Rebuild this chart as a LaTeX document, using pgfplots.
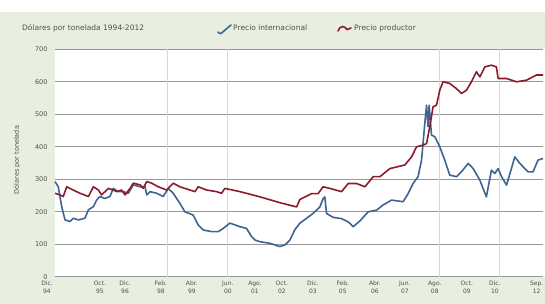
\documentclass[border=0pt]{standalone}
\usepackage{pgfplots}
\pgfplotsset{compat=1.18}
\usepackage{fontspec}
\setmainfont{DejaVu Sans}
\definecolor{panel}{RGB}{232,239,224}
\definecolor{blueline}{RGB}{62,100,145}
\definecolor{redline}{RGB}{140,28,45}
\definecolor{gridc}{RGB}{150,150,150}
\definecolor{vgrid}{RGB}{215,215,215}
\definecolor{txt}{RGB}{80,80,80}

\pgfplotstableread{
m v
0 293
1.5 277
3.1 216
4.6 175
6.9 170
8.4 180
10.8 175
13.8 180
15.4 206
17.7 216
19.2 236
20.7 247
23 241
25.3 247
26.9 272
29.2 262
31.5 262
33.8 257
36.1 283
39.2 277
41.5 277
42.3 252
43.8 262
46.9 257
49.9 247
52.2 272
54.5 257
57.6 226
59.9 200
63.7 190
66 160
68.3 144
72.2 139
75.3 139
77.6 149
80.6 165
82.9 160
85.3 154
88.3 149
90.6 124
92.2 113
94.5 108
99.1 103
103.7 93
106 98
108.3 113
110.6 145
112.9 165
116 180
119 195
122.1 215
123.6 240
124.4 246
125.2 195
128.2 183
132.1 179
135.2 169
137.5 154
140.6 172
144.4 200
148.2 205
151.3 221
155.2 236
160.5 231
162.8 256
165.1 287
167.4 308
169 359
170.5 472
171.3 528
172 462
172.5 528
173.6 436
175.1 431
177.4 400
179.7 359
182 313
185.1 308
187.4 323
190.5 349
192.8 333
195.9 297
198.9 246
201.2 328
202.8 318
204.3 333
205.9 308
208.2 282
212 369
214.3 349
218.1 323
220.4 323
222.7 359
225 364
}\intl

\pgfplotstableread{
m v
0 257
2.3 252
3.8 247
5.4 277
8.4 267
11.5 257
15.4 247
17.7 277
20 267
21.5 252
24.6 272
26.9 267
28.4 262
30.7 267
32.3 252
34.6 272
36.1 288
39.2 283
40.7 272
42.3 293
44.6 288
47.6 277
51.5 267
54.5 288
57.6 277
62.2 267
64.5 262
66 277
69.9 267
74.5 262
76.8 257
78.3 272
85.3 262
94.5 246
102.2 231
103.7 228
111.4 215
112.9 238
116 248
118.3 256
121.3 256
123.6 277
126.7 272
132.1 262
135.2 287
139 287
142.9 277
146.7 308
149.8 308
154.4 333
157.5 338
161.3 344
164.4 369
166.7 400
169.7 405
171.3 410
172.8 462
174.3 523
175.9 528
177.4 574
178.9 600
182 595
185.1 579
187.4 564
189.7 574
192 600
194.3 631
195.9 615
198.2 646
201.2 651
203.5 646
204.3 610
208.2 610
212.8 600
217.4 605
222 621
225 621
}\prod

\begin{document}
\begin{tikzpicture}[x=1pt,y=1pt]
\useasboundingbox (0,0) rectangle (545,304);
\fill[white] (0,0) rectangle (545,304);
\fill[panel] (0,0) rectangle (545,292);
\fill[white] (55,27.2) rectangle (545,254.7);
\node[anchor=west, font=\fontsize{7.5}{8}\selectfont, text=txt, inner sep=0] at (22,276) {Dólares por tonelada 1994-2012};
\draw[blueline, line width=1.6pt, line cap=round] (218,272) to[out=-45,in=210] (221,270.5) -- (231,279);
\node[anchor=west, font=\fontsize{7.5}{8}\selectfont, text=txt, inner sep=0] at (233,276) {Precio internacional};
\draw[redline, line width=1.6pt, line cap=round] (338,273) to[out=60,in=180] (342.5,277.5) to[out=0,in=135] (347,274.5) -- (351,276);
\node[anchor=west, font=\fontsize{7.5}{8}\selectfont, text=txt, inner sep=0] at (354,276) {Precio productor};
\node[rotate=90, font=\fontsize{6.5}{7}\selectfont, text=txt] at (17,144) {Dólares por tonelada};
\begin{axis}[
  at={(55pt,27.2pt)}, anchor=south west,
  scale only axis, width=488pt, height=227.5pt,
  xmin=0, xmax=225, ymin=0, ymax=700,
  axis line style={draw=none},
  major tick length=0pt,
  ytick={0,100,...,700},
  ymajorgrids,
  grid style={gridc, line width=1pt},
  /pgf/number format/assume math mode=true,
  yticklabel style={font=\fontsize{6.5}{7}\selectfont, text=txt, xshift=-4pt},
  xtick={20.7,32.3,48.8,63.1,79.7,92.2,104.6,118.9,132.7,147.5,161.3,175.1,189.9,202.8,222.1},
  xticklabels={{Oct.\\95},{Dic.\\96},{Feb.\\98},{Abr.\\99},{Jun.\\00},{Ago.\\01},{Oct.\\02},{Dic.\\03},{Feb.\\05},{Abr.\\06},{Jun.\\07},{Ago.\\08},{Oct.\\09},{Dic.\\10},{Sep.\\12}},
  xticklabel style={font=\fontsize{6}{7.5}\selectfont, text=txt, align=center, yshift=-1pt},
  extra x ticks={0},
  extra x tick labels={{Dic.\\94}},
  extra x tick style={xticklabel style={xshift=-8pt}, grid=none},
  clip=false,
]
\draw[vgrid, line width=0.8pt] (axis cs:51.6,0) -- (axis cs:51.6,700);
\draw[vgrid, line width=0.8pt] (axis cs:79.3,0) -- (axis cs:79.3,700);
\draw[vgrid, line width=0.8pt] (axis cs:177.4,0) -- (axis cs:177.4,700);
\draw[vgrid, line width=0.8pt] (axis cs:205,0) -- (axis cs:205,700);
\addplot[blueline, line width=1.6pt, line join=round] table[x=m,y=v] {\intl};
\addplot[redline, line width=1.6pt, line join=round] table[x=m,y=v] {\prod};
\end{axis}
\end{tikzpicture}
\end{document}
